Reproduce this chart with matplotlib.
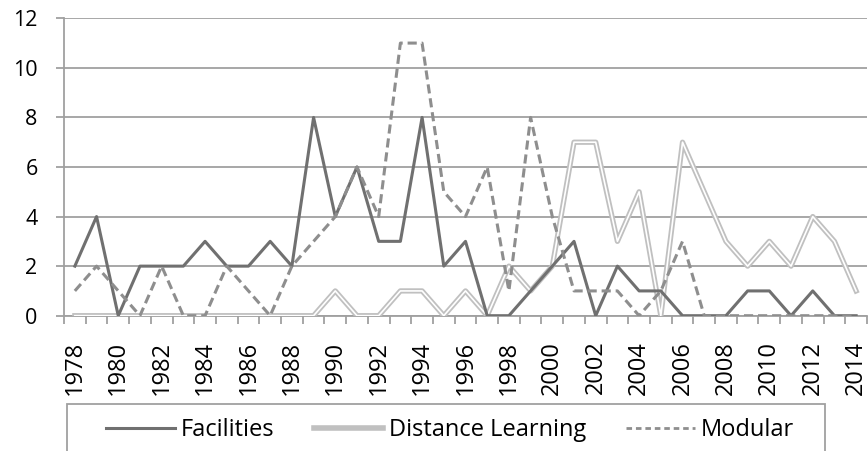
import matplotlib
matplotlib.use("Agg")
import matplotlib.pyplot as plt
from matplotlib.lines import Line2D
from matplotlib.patches import Rectangle
from matplotlib.ticker import FixedLocator

plt.rcParams['font.family'] = ['Open Sans', 'DejaVu Sans']

years = list(range(1978, 2015))
facilities = [2, 4, 0, 2, 2, 2, 3, 2, 2, 3, 2, 8, 4, 6, 3, 3, 8, 2, 3, 0,
              0, 1, 2, 3, 0, 2, 1, 1, 0, 0, 0, 1, 1, 0, 1, 0, 0]
distance_learning = [0, 0, 0, 0, 0, 0, 0, 0, 0, 0, 0, 0, 1, 0, 0, 1, 1, 0, 1, 0,
                     2, 1, 2, 7, 7, 3, 5, 0, 7, 5, 3, 2, 3, 2, 4, 3, 1]
modular = [1, 2, 1, 0, 2, 0, 0, 2, 1, 0, 2, 3, 4, 6, 4, 11, 11, 5, 4, 6,
           1, 8, 4, 1, 1, 1, 0, 1, 3, 0, 0, 0, 0, 0, 0, 0, 0]
series_names = ["Facilities", "Distance Learning", "Modular"]

W, H = 868, 451
fig = plt.figure(figsize=(W / 100, H / 100), dpi=100)
ax = fig.add_axes([64 / W, (H - 315.7) / H, (867 - 64) / W, (315.7 - 18.3) / H])

x = list(range(len(years)))
grid_c = '#a0a0a0'
fac_c = '#707070'
dl_c = '#c0c0c0'
mod_c = '#8e8e8e'

ax.plot(x, facilities, color=fac_c, lw=2.2, zorder=4)
ax.plot(x, distance_learning, color=dl_c, lw=3.8, zorder=3)
ax.plot(x, distance_learning, color='white', lw=1.2, zorder=3.1)
ax.plot(x, modular, color=mod_c, lw=2.2, dashes=(3, 1.6), zorder=5)

ax.set_xlim(-0.5, len(years) - 0.5)
ax.set_ylim(0, 12)
ax.set_yticks(range(0, 13, 2))
ax.yaxis.grid(True, color=grid_c, lw=1.3)
ax.set_axisbelow(True)
for s in ['top', 'right']:
    ax.spines[s].set_visible(False)
for s in ['left', 'bottom']:
    ax.spines[s].set_color(grid_c)
    ax.spines[s].set_linewidth(1.3)

ax.set_xticks(x[::2])
ax.set_xticklabels([str(y) for y in years[::2]], rotation=90, fontsize=17)
ax.xaxis.set_minor_locator(FixedLocator([i - 0.5 for i in range(len(years) + 1)]))
ax.tick_params(axis='x', which='major', length=0, pad=18)
ax.tick_params(axis='x', which='minor', length=5.5, color=grid_c, width=1.3)
ax.tick_params(axis='y', length=6, color=grid_c, width=1.3, pad=13, labelsize=15.5)

# legend box
fig.patches.append(Rectangle((67 / W, -0.2), (825 - 67) / W, (H - 404) / H + 0.2,
                             transform=fig.transFigure, fill=False,
                             edgecolor=grid_c, lw=1.3))
handles = [Line2D([], [], color=fac_c, lw=2.2),
           Line2D([], [], color=dl_c, lw=4.0),
           Line2D([], [], color=mod_c, lw=2.0, dashes=(2, 1.4))]
fig.legend(handles, series_names, loc='center', bbox_to_anchor=(450 / W, (H - 430) / H),
           ncol=3, frameon=False, fontsize=17, handlelength=2.95,
           handletextpad=0.25, columnspacing=1.65)

fig.savefig('out.png', dpi=100)
